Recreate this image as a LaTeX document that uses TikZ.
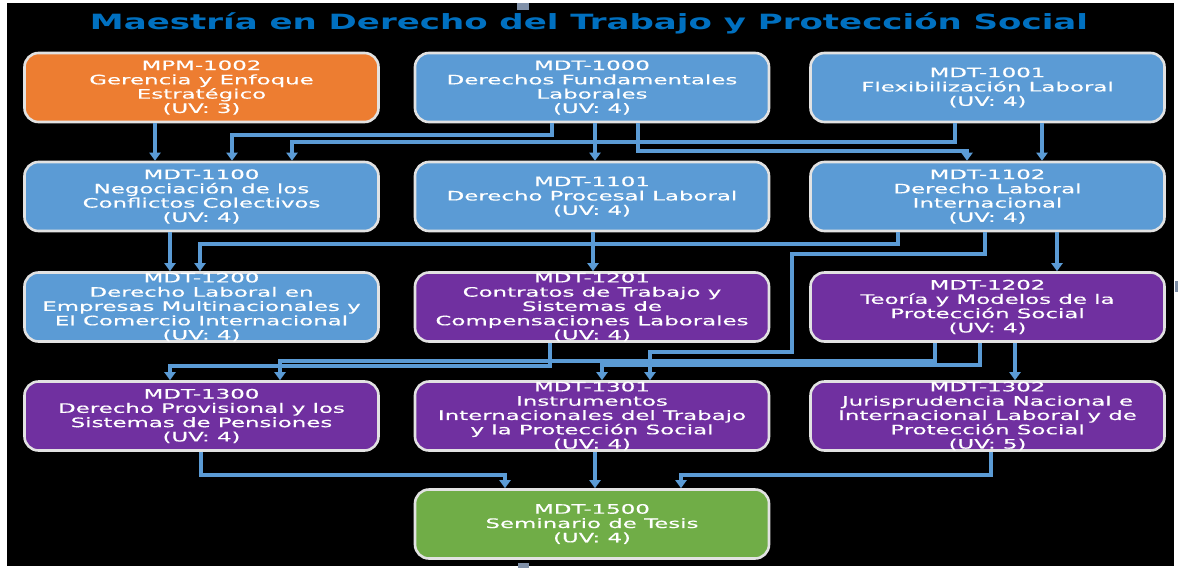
\documentclass[tikz,border=0pt]{standalone}
\usepackage{fontspec}
\usetikzlibrary{arrows.meta}
\newfontfamily\boxfont[FakeStretch=1.76,FakeBold=0.4]{DejaVu Sans}
\newfontfamily\titlefont[FakeStretch=1.62]{DejaVu Sans}
\definecolor{cblue}{HTML}{5B9BD5}
\definecolor{corange}{HTML}{ED7D31}
\definecolor{cpurple}{HTML}{7030A0}
\definecolor{cgreen}{HTML}{70AD47}
\definecolor{ctitle}{HTML}{0070C0}
\definecolor{cline}{HTML}{5B9BD5}
\definecolor{cborder}{HTML}{E2E2E2}
\definecolor{chandle}{HTML}{8090A8}
\begin{document}
\begin{tikzpicture}[x=1pt,y=-1pt,
  course/.style={draw=cborder, line width=2.6pt, rounded corners=14pt,
    minimum width=354pt, minimum height=69pt, inner sep=0pt, text=white,
    align=center, font=\boxfont\fontsize{13}{14.3}\selectfont},
  bluebox/.style={course, fill=cblue},
  orangebox/.style={course, fill=corange},
  purplebox/.style={course, fill=cpurple},
  greenbox/.style={course, fill=cgreen},
  conn/.style={draw=cline, line width=3.2pt, -{Triangle[width=11pt,length=8pt]}},
  handle/.style={fill=chandle, draw=none}
]
\useasboundingbox (0,0) rectangle (1178,568);
\fill[white] (0,0) rectangle (1178,568);
\fill[black] (7,3) rectangle (1174,566);
\fill[handle] (517,3) rectangle (529,10);
\fill[handle] (518,563) rectangle (529,568);
\fill[handle] (1175,281) rectangle (1178,292);

\node[anchor=base, text=ctitle, font=\titlefont\bfseries\fontsize{21}{24}\selectfont] (title) at (589,29.5)
  {Maestría en Derecho del Trabajo y Protección Social};

% row 1
\node[orangebox] (a1) at (201.5,87.5) {MPM-1002\\Gerencia y Enfoque\\Estratégico\\(UV: 3)};
\node[bluebox] (a2) at (592,87.5) {MDT-1000\\Derechos Fundamentales\\Laborales\\(UV: 4)};
\node[bluebox] (a3) at (987.5,87.5) {MDT-1001\\Flexibilización Laboral\\(UV: 4)};
% row 2
\node[bluebox] (b1) at (201.5,196.5) {MDT-1100\\Negociación de los\\Conflictos Colectivos\\(UV: 4)};
\node[bluebox] (b2) at (592,196.5) {MDT-1101\\Derecho Procesal Laboral\\(UV: 4)};
\node[bluebox] (b3) at (987.5,196.5) {MDT-1102\\Derecho Laboral\\Internacional\\(UV: 4)};
% row 3
\node[bluebox] (c1) at (201.5,307) {MDT-1200\\Derecho Laboral en\\Empresas Multinacionales y\\El Comercio Internacional\\(UV: 4)};
\node[purplebox] (c2) at (592,307) {MDT-1201\\Contratos de Trabajo y\\Sistemas de\\Compensaciones Laborales\\(UV: 4)};
\node[purplebox] (c3) at (987.5,307) {MDT-1202\\Teoría y Modelos de la\\Protección Social\\(UV: 4)};
% row 4
\node[purplebox] (d1) at (201.5,416) {MDT-1300\\Derecho Provisional y los\\Sistemas de Pensiones\\(UV: 4)};
\node[purplebox] (d2) at (592,416) {MDT-1301\\Instrumentos\\Internacionales del Trabajo\\y la Protección Social\\(UV: 4)};
\node[purplebox] (d3) at (987.5,416) {MDT-1302\\Jurisprudencia Nacional e\\Internacional Laboral y de\\Protección Social\\(UV: 5)};
% row 5
\node[greenbox] (e) at (592,524) {MDT-1500\\Seminario de Tesis\\(UV: 4)};

% connectors
\draw[conn] (a1.south -| 155,0) -- (b1.north -| 155,0);
\draw[conn] (a2.south -| 552,0) |- (232,135) -- (b1.north -| 232,0);
\draw[conn] (a3.south -| 955,0) |- (292,142) -- (b1.north -| 292,0);
\draw[conn] (a2.south -| 595,0) -- (b2.north -| 595,0);
\draw[conn] (a2.south -| 638,0) |- (967,151) -- (b3.north -| 967,0);
\draw[conn] (a3.south -| 1042,0) -- (b3.north -| 1042,0);
\draw[conn] (b1.south -| 170,0) -- (c1.north -| 170,0);
\draw[conn] (b3.south -| 898,0) |- (200,244) -- (c1.north -| 200,0);
\draw[conn] (b2.south -| 593,0) -- (c2.north -| 593,0);
\draw[conn] (b3.south -| 1057,0) -- (c3.north -| 1057,0);
\draw[conn] (b3.south -| 985,0) |- (792,254) |- (650,352) -- (d2.north -| 650,0);
\draw[conn] (c2.south -| 550,0) |- (170,366) -- (d1.north -| 170,0);
\draw[conn] (c3.south -| 935,0) |- (280,361) -- (d1.north -| 280,0);
\draw[conn] (c3.south -| 980,0) |- (602,365) -- (d2.north -| 602,0);
\draw[conn] (c3.south -| 1015,0) -- (d3.north -| 1015,0);
\draw[conn] (d1.south -| 201,0) |- (505,475) -- (e.north -| 505,0);
\draw[conn] (d2.south -| 595,0) -- (e.north -| 595,0);
\draw[conn] (d3.south -| 991,0) |- (681,475) -- (e.north -| 681,0);
\end{tikzpicture}
\end{document}
